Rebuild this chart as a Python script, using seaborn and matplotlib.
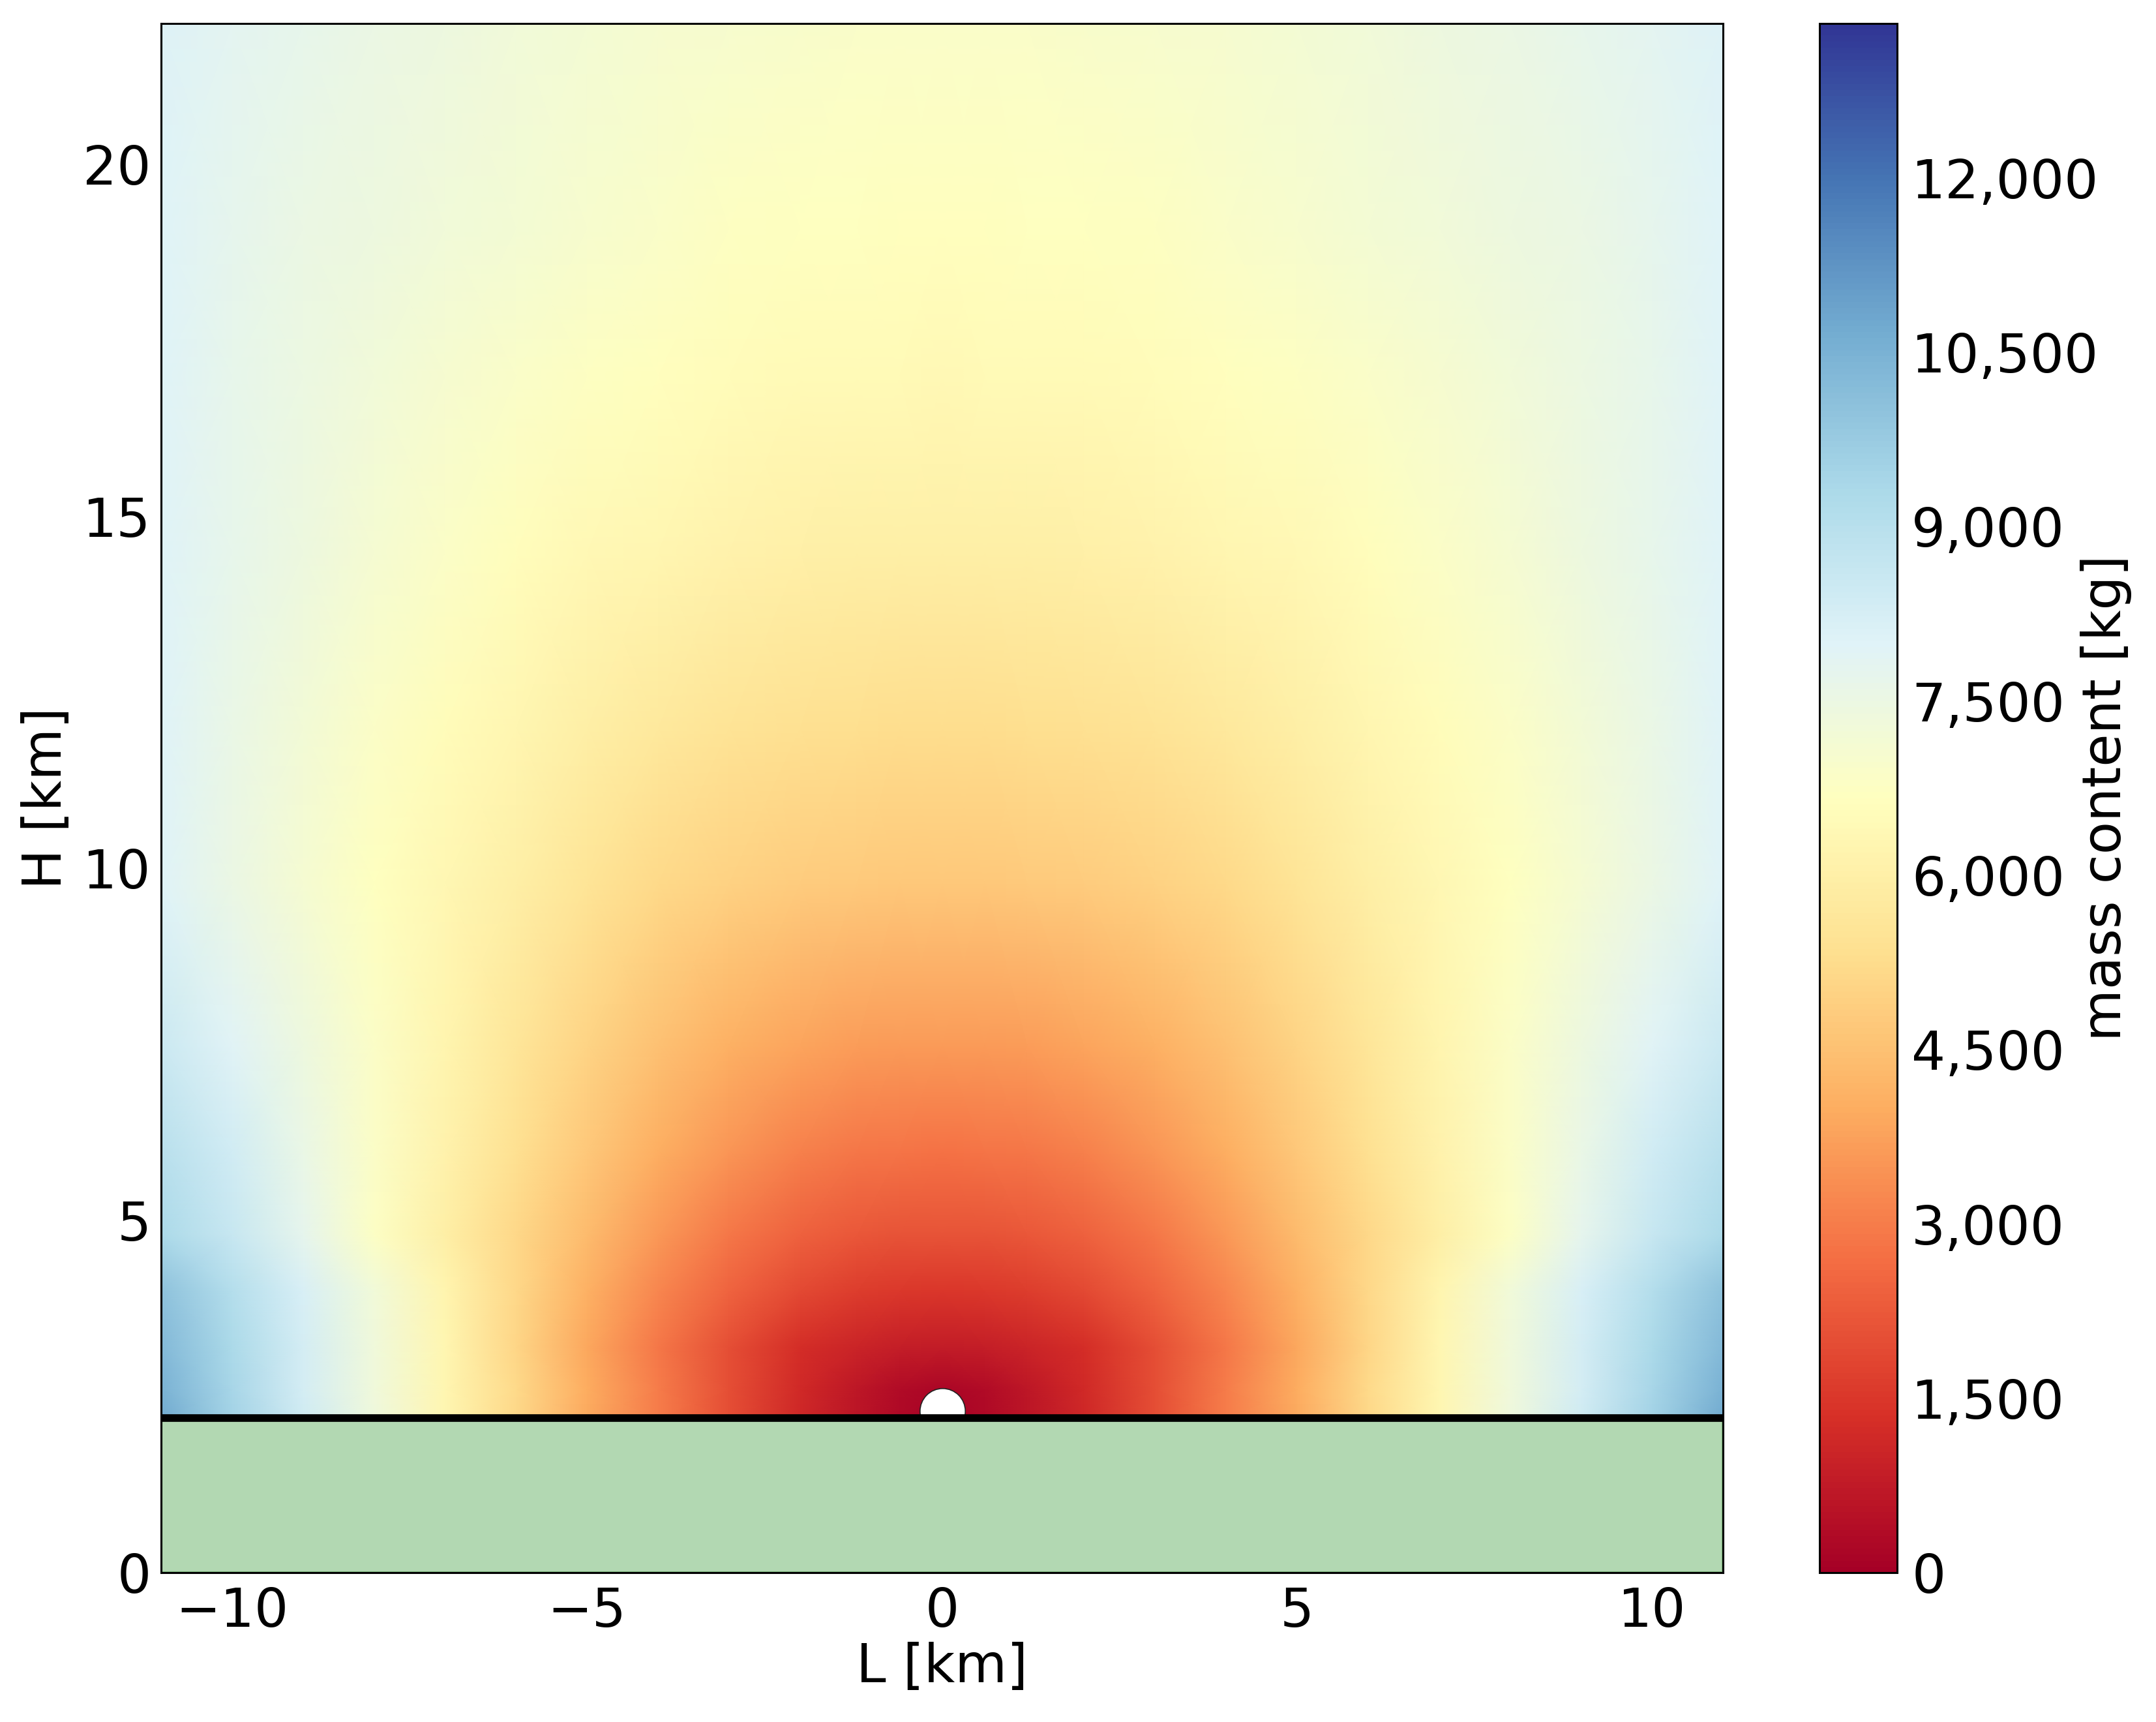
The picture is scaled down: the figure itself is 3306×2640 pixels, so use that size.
import numpy as np
import matplotlib
matplotlib.use("Agg")
import matplotlib.pyplot as plt
import matplotlib.ticker as mticker
import seaborn as sns

# horizontal distance from the vent [km] (right half, the field is mirror symmetric)
L_nodes = [0, 0.6, 1.2, 2, 3, 4, 5, 6, 7, 8, 9, 10, 11]
# height [km]
H_nodes = [2.2, 2.6, 3.2, 4, 4.8, 6, 7.5, 9.8, 12, 14.5, 17, 19.1, 22]

# mass content [kg], one row per entry of H_nodes
mass_right = [
    [0, 300, 600, 1100, 2000, 3000, 3950, 5150, 6300, 7350, 8400, 9500, 10700],
    [200, 350, 650, 1150, 2000, 3000, 4000, 5200, 6300, 7300, 8300, 9400, 10500],
    [800, 850, 1000, 1300, 2000, 2900, 3900, 5100, 6250, 7300, 8300, 9300, 10300],
    [1500, 1530, 1650, 1900, 2450, 3200, 4100, 5150, 6200, 7250, 8200, 9100, 10000],
    [2100, 2120, 2200, 2420, 2900, 3550, 4350, 5150, 5980, 6800, 7750, 8600, 9300],
    [2800, 2820, 2900, 3100, 3500, 4050, 4700, 5400, 6100, 6850, 7600, 8350, 9000],
    [3600, 3620, 3680, 3820, 4100, 4500, 5000, 5600, 6200, 6850, 7400, 7950, 8500],
    [4700, 4710, 4740, 4800, 4950, 5200, 5550, 5950, 6350, 6700, 7100, 7550, 8000],
    [5300, 5310, 5330, 5380, 5500, 5700, 5950, 6250, 6550, 6850, 7200, 7600, 8000],
    [5950, 5960, 5980, 6020, 6100, 6250, 6400, 6600, 6850, 7100, 7400, 7700, 8000],
    [6400, 6410, 6420, 6450, 6520, 6620, 6750, 6900, 7050, 7250, 7450, 7700, 8000],
    [6650, 6660, 6670, 6700, 6750, 6880, 7020, 7150, 7280, 7400, 7550, 7750, 8000],
    [6900, 6900, 6910, 6930, 6980, 7050, 7150, 7280, 7400, 7550, 7700, 7850, 8050],
]

ground_top = 2.2
vent = (0.0, 2.3)
vmax = 13330
cbar_ticks = [0, 1500, 3000, 4500, 6000, 7500, 9000, 10500, 12000]
x_ticks = [-10, -5, 0, 5, 10]
y_ticks = [0, 5, 10, 15, 20]

sns.set_theme(style="ticks")
plt.rcParams.update({
    "font.family": ["DejaVu Sans"],
    "font.size": 29.5,
    "text.color": "black",
    "axes.labelcolor": "black",
    "axes.linewidth": 1.1,
    "axes.edgecolor": "black",
    "xtick.direction": "in",
    "ytick.direction": "in",
    "xtick.top": True,
    "ytick.right": True,
    "xtick.major.size": 5.4,
    "ytick.major.size": 5.4,
    "xtick.major.width": 0.8,
    "ytick.major.width": 0.8,
    "xtick.color": "black",
    "ytick.color": "black",
    "xtick.labelcolor": "black",
    "ytick.labelcolor": "black",
})

fig = plt.figure(figsize=(16.53, 13.2), dpi=200)
ax = fig.add_axes([0.0747, 0.0867, 0.7245, 0.8997])
cax = fig.add_axes([0.8439, 0.0867, 0.036, 0.8997])

L = np.array(L_nodes)
half = np.array(mass_right, dtype=float)
full_L = np.concatenate([-L[:0:-1], L])
full_M = np.hstack([half[:, :0:-1], half])

cmap = sns.color_palette("RdYlBu", as_cmap=True)
mesh = ax.pcolormesh(full_L, H_nodes, full_M, shading="gouraud",
                     cmap=cmap, vmin=0, vmax=vmax, rasterized=True)

# vent, ground and surface line
ax.plot([vent[0]], [vent[1]], "o", ms=25, mfc="white", mec="#222222", mew=0.6, zorder=3)
ax.axhspan(0, ground_top, facecolor="#b2d8b2", edgecolor="#80b880", lw=1.5, zorder=4)
ax.axhline(ground_top, color="black", lw=4.2, zorder=5)

ax.set_xlim(-11, 11)
ax.set_ylim(0, 22)
ax.set_xticks(x_ticks)
ax.set_yticks(y_ticks)
ax.tick_params(axis="x", labelsize=29.5, pad=7.5)
ax.tick_params(axis="y", labelsize=29.5, pad=5.5)
ax.set_xlabel("L [km]", fontsize=29.5, labelpad=2)
ax.set_ylabel("H [km]", fontsize=29.5, labelpad=6)
for s in ax.spines.values():
    s.set_visible(True)
    s.set_linewidth(1.1)
    s.set_zorder(6)

cb = fig.colorbar(mesh, cax=cax, ticks=cbar_ticks)
cb.ax.yaxis.set_major_formatter(mticker.FuncFormatter(lambda v, p: f"{int(v):,}"))
cb.ax.tick_params(direction="in", length=5.4, width=0.8, labelsize=29.5, pad=8,
                  left=False, right=True, colors="black")
cb.outline.set_linewidth(1.1)
cb.outline.set_edgecolor("black")
fig.text(0.977, 0.5367, "mass content [kg]", rotation=90, ha="center", va="center",
         fontsize=29.5, color="black")

fig.savefig("out.png", dpi=200)
